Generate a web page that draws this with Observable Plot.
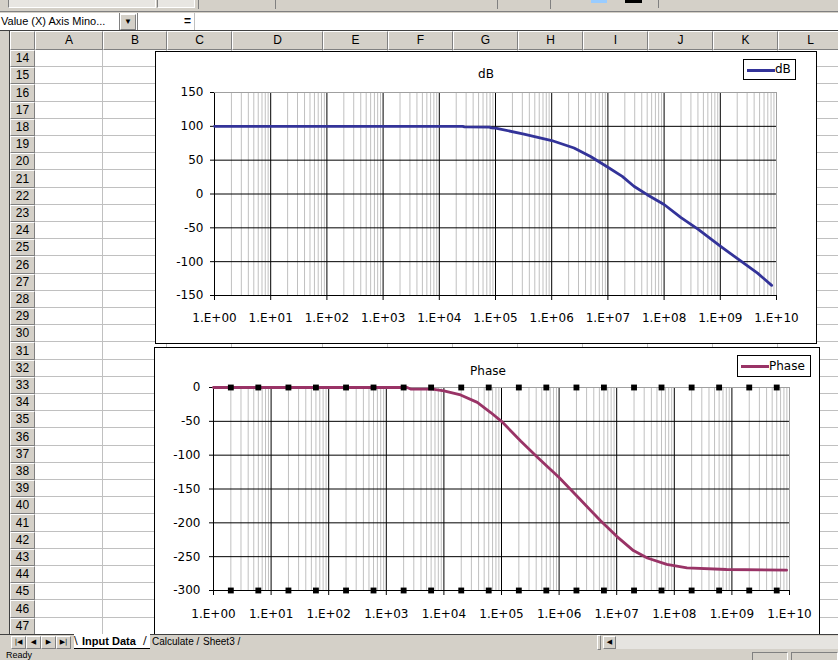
<!DOCTYPE html>
<html><head><meta charset="utf-8">
<script src="https://cdn.jsdelivr.net/npm/d3@7"></script>
<script src="https://cdn.jsdelivr.net/npm/@observablehq/plot@0.6"></script>
<style>
html,body{margin:0;padding:0;width:838px;height:660px;overflow:hidden;background:#d4d0c8;}
#app{position:relative;width:838px;height:660px;overflow:hidden;font-family:"Liberation Sans",Arial,sans-serif;}
#app svg{overflow:visible;}
</style></head><body>
<div id="app"></div>
<script>
// ---------- data ----------
const dbFreq   = [1, 2.6e4, 2.8e4, 7.8e4, 8.5e4, 1e5, 3.2e5, 1e6, 2.5e6, 5e6, 1e7, 1.8e7, 2.9e7, 5e7, 1e8, 2e8, 4e8, 1e9, 2.3e9, 4.6e9, 8.2e9];
const dbValue  = [100, 100, 99.2, 98.8, 97.8, 97.4, 88.5, 79, 68, 55, 39.5, 26, 11.5, -1, -15.5, -35, -52, -77, -99, -117, -135];
const phaseFreq  = [1, 2.3e3, 2.7e3, 6.3e3, 1e4, 1.95e4, 3.8e4, 6.5e4, 1e5, 2.15e5, 4.2e5, 1e6, 2.35e6, 5.25e6, 1e7, 1.95e7, 3.4e7, 7.4e7, 1.66e8, 8.1e8, 8.9e9];
const phaseValue = [0, 0, -2.5, -2.5, -5, -11, -22, -37, -50, -79, -103, -133, -166, -197, -220, -241, -252, -261.5, -266.5, -269, -270];
const decadeTicks  = [1, 1e1, 1e2, 1e3, 1e4, 1e5, 1e6, 1e7, 1e8, 1e9, 1e10];
const decadeLabels = ["1.E+00","1.E+01","1.E+02","1.E+03","1.E+04","1.E+05","1.E+06","1.E+07","1.E+08","1.E+09","1.E+10"];
const minorSteps  = [2, 3, 4, 5, 6, 7, 8, 9];
const handleSteps = [2, 6];
const dbTicks    = [-150, -100, -50, 0, 50, 100, 150];
const phaseTicks = [-300, -250, -200, -150, -100, -50, 0];
const dbTitle = "dB", phaseTitle = "Phase";
const columnLetters = ["A","B","C","D","E","F","G","H","I","J","K","L"];
const rowNumbers = [14,15,16,17,18,19,20,21,22,23,24,25,26,27,28,29,30,31,32,33,34,35,36,37,38,39,40,41,42,43,44,45,46,47];
const sheetTabs = ["Input Data", "Calculate", "Sheet3"];
const nameBoxText = "Value (X) Axis Mino...";

// ---------- spreadsheet chrome ----------
const app = document.getElementById("app");
function el(style, text, parent) {
  const e = document.createElement("div");
  e.style.cssText = "position:absolute;box-sizing:border-box;" + style;
  if (text != null) e.textContent = text;
  (parent || app).appendChild(e);
  return e;
}
const raised = "border-top:1px solid #fff;border-left:1px solid #fff;border-right:1px solid #808080;border-bottom:1px solid #808080;";
const sunken = "border-top:1px solid #808080;border-left:1px solid #808080;border-right:1px solid #fff;border-bottom:1px solid #fff;";

// toolbar strip
el("left:0;top:0;width:838px;height:12px;background:#d4d0c8;border-bottom:1px solid #808080;");
el("left:8px;top:-4px;width:148px;height:12px;background:#e8e6e2;" + sunken);
el("left:157px;top:-4px;width:38px;height:12px;background:#e8e6e2;" + sunken);
el("left:198px;top:0;width:1px;height:9px;background:#808080;");
el("left:275px;top:0;width:1px;height:9px;background:#808080;");
el("left:497px;top:0;width:1px;height:9px;background:#808080;");
el("left:550px;top:0;width:1px;height:9px;background:#808080;");
el("left:591px;top:0;width:16px;height:3px;background:#99ccff;");
el("left:625px;top:0;width:17px;height:3px;background:#000;");
el("left:658px;top:0;width:1px;height:8px;background:#808080;");
// formula bar
el("left:0;top:13px;width:838px;height:18px;background:#fff;");
el("left:0;top:13px;width:120px;height:18px;background:#fff;border-right:1px solid #808080;font-size:11px;line-height:17px;padding-left:1px;white-space:nowrap;", nameBoxText);
el("left:120px;top:14px;width:16px;height:16px;background:#d4d0c8;" + raised + "font-size:8px;line-height:14px;text-align:center;", "▼");
el("left:137px;top:13px;width:58px;height:18px;background:#fff;border-left:1px solid #808080;border-right:1px solid #c0c0c0;font-size:12px;font-weight:bold;line-height:17px;padding-left:46px;", "=");
el("left:0;top:30px;width:838px;height:1px;background:#404040;");

// column headers
const colBounds = [10, 35, 103, 167, 232, 323, 388, 453, 518, 583, 648, 713, 778, 843];
el("left:0;top:31px;width:10px;height:620px;background:#d4d0c8;border-right:1px solid #404040;");
for (let i = 0; i < colBounds.length - 1; i++) {
  el(`left:${colBounds[i]}px;top:31px;width:${colBounds[i+1]-colBounds[i]}px;height:19px;background:#d4d0c8;${raised}font-size:12px;line-height:17px;text-align:center;`, i === 0 ? "" : columnLetters[i-1]);
}
// cells
const rowTop = k => Math.round(50 + k * 17.2);
el("left:35px;top:50px;width:803px;height:585px;background:#fff;");
rowNumbers.forEach((r, k) => {
  const t = rowTop(k), h = rowTop(k+1) - t;
  el(`left:10px;top:${t}px;width:25px;height:${h}px;background:#d4d0c8;${raised}font-size:12px;line-height:${h-2}px;text-align:center;`, String(r));
  el(`left:35px;top:${t + h - 1}px;width:803px;height:1px;background:#c0c0c0;`);
});
colBounds.slice(2, -1).forEach(x => el(`left:${x-1}px;top:50px;width:1px;height:585px;background:#c0c0c0;`));

// ---------- charts ----------
function bode(cfg) {
  const rows = cfg.freq.map((f, i) => ({f, v: cfg.values[i]}));
  const lastX = decadeTicks[decadeTicks.length - 1];
  const minor = decadeTicks.slice(0, -1).flatMap(d => minorSteps.map(m => d * m));
  const yTop = d3.max(cfg.yTicks);
  const marks = [
    Plot.ruleX(minor, {stroke: "#c0c0c0", strokeWidth: 1}),
    Plot.ruleX(decadeTicks.filter(d => d !== lastX), {stroke: "#000"}),
    Plot.ruleX([lastX], {stroke: "#a0a0a0"}),
    Plot.ruleY(cfg.yTicks.filter(t => t !== yTop), {stroke: "#000"}),
    Plot.ruleY([yTop], {stroke: "#a0a0a0"}),
    Plot.axisY({ticks: cfg.yTicks, tickSize: 4, tickPadding: cfg.yPad, label: null, tickFormat: d => String(d)}),
    Plot.axisX({ticks: decadeTicks, tickSize: 5, tickPadding: cfg.xPad, label: null, tickFormat: d => decadeLabels[decadeTicks.indexOf(d)]}),
    Plot.line(rows, {x: "f", y: "v", stroke: cfg.color, strokeWidth: 2.8, strokeLinejoin: "round"})
  ];
  if (cfg.handles) {
    const pts = decadeTicks.slice(0, -1).flatMap(d => handleSteps.map(m => d * m))
      .flatMap(x => [{x, y: d3.max(cfg.yTicks)}, {x, y: d3.min(cfg.yTicks)}]);
    marks.push(Plot.dot(pts, {x: "x", y: "y", symbol: "square", r: 3.3, fill: "#000", stroke: null}));
  }
  return Plot.plot({
    width: cfg.width, height: cfg.height,
    marginLeft: cfg.ml, marginRight: cfg.mr, marginTop: cfg.mt, marginBottom: cfg.mb,
    x: {type: "log", domain: [1, lastX], label: null},
    y: {domain: d3.extent(cfg.yTicks), label: null},
    style: {fontFamily: "'DejaVu Sans', sans-serif", fontSize: "12px", color: "#000", background: "transparent", overflow: "visible"},
    marks
  });
}

function chartFrame(f) {
  const frame = el(`left:${f.left}px;top:${f.top}px;width:${f.w}px;height:${f.h}px;background:#fff;border:1px solid #000;`);
  const svg = bode(Object.assign({width: f.w - 2, height: f.h - 2}, f.plot));
  svg.style.position = "absolute"; svg.style.left = "0px"; svg.style.top = "0px";
  frame.appendChild(svg);
  el(`left:${f.titleX - f.left - 60}px;top:${f.titleY - f.top}px;width:120px;text-align:center;font:12px 'DejaVu Sans';color:#000;`, f.title, frame);
  const lg = el(`left:${f.lg[0] - f.left - 1}px;top:${f.lg[1] - f.top - 1}px;width:${f.lg[2]}px;height:${f.lg[3]}px;background:#fff;border:1px solid #000;`, null, frame);
  el(`left:3px;top:${Math.round(f.lg[3]/2) - 2.5}px;width:${f.lg[4]}px;height:3px;background:${f.plot.color};`, null, lg);
  el(`left:${f.lg[4] + 3}px;top:0;height:${f.lg[3]-2}px;font:12px 'DejaVu Sans';line-height:${f.lg[3]-2}px;white-space:nowrap;`, f.title, lg);
}

chartFrame({
  left: 155, top: 51, w: 662, h: 293, title: dbTitle, titleX: 485, titleY: 66,
  lg: [743, 59, 53, 21, 28],
  plot: {freq: dbFreq, values: dbValue, yTicks: dbTicks, color: "#333399", ml: 58, mr: 40, mt: 40, mb: 48, yPad: 7, xPad: 13}
});
chartFrame({
  left: 154, top: 347, w: 666, h: 300, title: phaseTitle, titleX: 487, titleY: 363,
  lg: [737, 355, 74, 22, 28],
  plot: {freq: phaseFreq, values: phaseValue, yTicks: phaseTicks, color: "#993366", ml: 58, mr: 30, mt: 39, mb: 56, yPad: 9, xPad: 14, handles: true}
});

// ---------- sheet tabs and status bar ----------
el("left:0;top:634px;width:838px;height:17px;background:#d4d0c8;border-top:1px solid #404040;");
["|◀","◀","▶","▶|"].forEach((g, i) => {
  el(`left:${11 + i*15}px;top:636px;width:15px;height:13px;background:#d4d0c8;${raised}font:7px 'DejaVu Sans';line-height:11px;text-align:center;`, g);
});
el("left:74px;top:634px;width:76px;height:15px;background:#fff;border-bottom:1px solid #000;");
el("left:74px;top:634px;font:11px 'DejaVu Sans';line-height:14px;", "\u005C");
el("left:82px;top:634px;font:bold 11px 'Liberation Sans';line-height:14px;white-space:nowrap;", sheetTabs[0]);
el("left:143px;top:634px;font:11px 'DejaVu Sans';line-height:14px;", "/");
el("left:152px;top:635px;font:10px 'Liberation Sans';line-height:13px;white-space:nowrap;", sheetTabs[1] + " /");
el("left:203px;top:635px;font:10px 'Liberation Sans';line-height:13px;white-space:nowrap;", sheetTabs[2] + " /");
el("left:597px;top:635px;width:4px;height:15px;background:#d4d0c8;" + raised);
el("left:603px;top:636px;width:13px;height:13px;background:#d4d0c8;" + raised + "font:7px 'DejaVu Sans';line-height:11px;text-align:center;", "◀");
el("left:616px;top:636px;width:222px;height:13px;background:#e6e4e0;");
el("left:0;top:651px;width:838px;height:9px;background:#d4d0c8;");
el("left:6px;top:651px;font:9px 'Liberation Sans';line-height:9px;", "Ready");
el("left:752px;top:652px;width:36px;height:14px;" + sunken);
el("left:791px;top:652px;width:47px;height:14px;" + sunken);
</script>
</body></html>
